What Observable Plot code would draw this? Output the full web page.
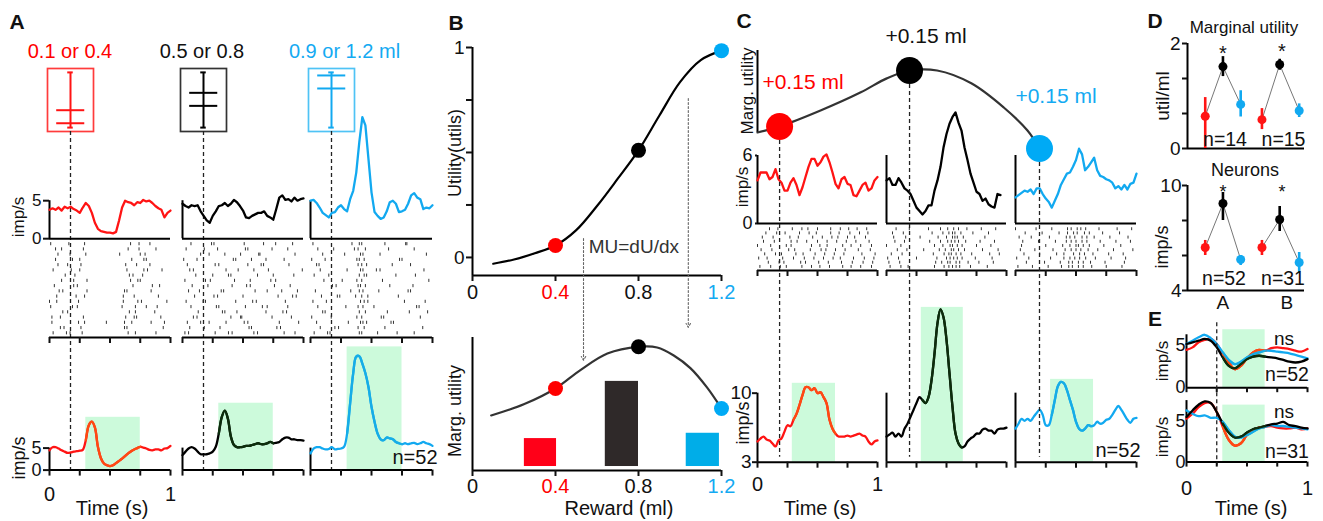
<!DOCTYPE html>
<html><head><meta charset="utf-8">
<script src="https://cdn.jsdelivr.net/npm/d3@7"></script>
<script src="https://cdn.jsdelivr.net/npm/@observablehq/plot@0.6"></script>
<style>
body{margin:0;background:#fff;}
#fig{position:relative;width:1323px;height:521px;overflow:hidden;font-family:'Liberation Sans',Arial,Helvetica,sans-serif;}
#fig svg{position:absolute;}
.lab{position:absolute;white-space:nowrap;line-height:1;transform:translate(-50%,-50%);color:#111;}
</style></head><body><div id="fig"></div>
<script>
// ================= DATA =================
const T41 = d3.range(41).map(i => i / 40);
const T21 = d3.range(21).map(i => i / 20);

// Panel A : cue boxes (reward amounts), titles
const aTitles = ["0.1 or 0.4", "0.5 or 0.8", "0.9 or 1.2 ml"];
const aBoxVals = [[0.1, 0.4], [0.5, 0.8], [0.9, 1.2]];
// Panel A single neuron PSTH (imp/s)
const aTopRed   = [3.8,4.0,3.8,4.1,3.7,4.2,4.0,4.2,3.9,3.7,3.4,4.1,4.7,4.3,3.4,2.1,1.3,1.0,0.9,0.8,0.8,0.7,0.9,2.4,4.1,5.0,4.8,4.7,4.4,4.8,4.7,5.1,4.9,5.0,4.7,4.3,4.0,3.8,2.8,3.4,3.7];
const aTopBlack = [4.6,4.3,4.1,4.4,4.3,4.4,3.6,3.0,2.4,2.1,3.0,3.6,4.3,4.4,4.7,4.3,4.6,5.1,4.8,4.3,3.7,2.8,2.7,3.0,3.2,3.4,3.4,3.6,3.0,2.8,2.5,3.9,5.4,5.7,5.1,5.2,4.9,5.4,5.0,5.2,5.3];
const aTopBlue  = [5.0,5.1,4.7,4.1,3.4,3.1,2.8,3.4,3.5,4.1,4.4,3.9,3.6,5.2,6.3,8.7,12.7,16.0,14.9,10.5,6.1,3.5,3.0,2.6,2.8,3.6,4.8,5.0,4.6,3.5,3.6,3.8,4.6,5.7,6.0,5.4,5.2,3.9,4.1,4.0,4.4];
// Panel A population PSTH (n=52)
const aBotRed   = [4.5,5.2,5.2,4.9,4.5,4.2,3.9,4.0,4.2,4.3,4.4,4.6,6.8,10.2,11.0,9.7,5.3,2.7,1.5,1.1,0.9,1.1,1.6,2.1,2.6,3.2,3.8,4.3,4.7,5.0,5.3,5.1,4.9,4.6,4.5,4.7,4.7,4.5,4.9,5.0,5.5];
const aBotBlack = [3.4,4.2,4.9,5.2,4.9,4.2,3.6,3.6,3.6,3.8,4.2,5.3,8.3,12.1,13.5,11.7,7.6,5.7,5.2,5.2,5.3,5.5,5.5,5.7,5.9,6.1,5.9,5.9,6.1,6.4,6.1,6.2,6.4,7.0,7.4,7.4,7.0,7.0,6.8,6.8,6.7];
const aBotBlue  = [3.8,4.9,5.2,5.2,4.9,4.7,4.8,5.2,4.7,4.8,4.9,5.3,8.3,15.2,22.0,25.8,25.9,24.2,22.0,18.9,14.4,11.0,8.3,7.0,6.8,7.4,7.2,7.0,6.4,6.1,5.9,6.1,5.9,6.1,6.2,5.9,6.1,6.4,6.1,5.9,5.5];
const aWinStart = [0.30, 0.30, 0.30];
const aWinEnd   = [0.75, 0.75, 0.75];
const aWinTop   = [12, 15.2, 28];
// Panel A rasters: spike times (hundredths of s), one string per trial
const aRasterRed = ["3 14 17 27 65 71 88","9 12 26 62 64 94","2 24 29 47 62 68 84 95","2 9 28 63 70 72 92","11 15 66 71 87","1 19 23 60 71 80 89","0 6 24 61 73 76 97","6 22 29 61 70 90","8 11 31 62 64 84","4 20 23 69 85 91","10 20 31 67 73 75","13 21 66 69 77","3 18 25 64 78 81 93","7 15 26 63 72 83","5 19 25 68 78 80","7 17 30 58 75 79","5 10 28 65 74 88","1 16 29 67 74 83"];
const aRasterBlack = ["2 5 27 38 41 59 62 84 93","6 18 31 55 57 78 81","4 15 22 36 51 54 80 96","9 12 40 48 49 74 90","13 33 35 45 69 83 86","7 28 30 52 66 70 87","3 17 19 44 58 61 85","10 26 29 50 79 91 94","5 14 32 34 60 70 82 95","8 21 41 53 56 76 89","2 19 23 43 56 73 77","11 25 38 40 62 75 92","6 9 36 46 59 71 99","4 27 30 54 65 67 88","1 12 42 44 57 69 84","15 22 35 48 63 64 93","3 18 29 52 54 74 87","7 24 26 51 67 77 91"];
const aRasterBlue = ["3 14 16 40 42 55 71 85","8 20 23 39 44 61 92","5 31 41 43 46 66 68","1 17 38 42 58 60 90","10 12 40 45 63 81 96","6 29 39 43 52 87 89","2 13 41 44 47 77 94","9 22 24 37 42 47 72","4 33 40 43 56 80 82","18 21 39 41 45 65 84","11 26 38 42 59 97","3 15 40 44 46 70 86","8 30 41 43 54 57 93","5 7 39 42 46 67 82","1 12 38 40 44 73 75","10 28 41 43 57 95","6 19 36 39 45 64 85","2 34 40 42 61 78 79"];

// Panel B
const bX    = [0.1,0.2,0.3,0.4,0.5,0.6,0.7,0.8,0.9,1.0,1.1,1.2];
const bUtil = [-0.03,-0.01,0.02,0.057,0.13,0.245,0.375,0.51,0.675,0.835,0.94,0.985];
const bMuX  = [0.09,0.25,0.4,0.52,0.65,0.8,0.89,0.97,1.05,1.13,1.2];
const bMu   = [0.414,0.50,0.617,0.755,0.88,0.93,0.925,0.865,0.77,0.625,0.466];
const bDotX = [0.4, 0.8, 1.2];
const bDotU = [0.057, 0.51, 0.985];
const bDotMu = [0.617, 0.93, 0.466];
const bBarX1 = [0.25, 0.64, 1.03];
const bBarX2 = [0.405, 0.80, 1.19];
const bBarTop = [0.24, 0.67, 0.28];
const bTicks = [0, 0.4, 0.8, 1.2];
const bTickLabels = ["0", "0.4", "0.8", "1.2"];

// Panel C
const cCurveX = [0.332,0.4,0.526,0.65,0.73,0.8,0.885,0.99,1.09,1.163,1.2];
const cCurveY = [0,0.073,0.268,0.49,0.66,0.756,0.756,0.6,0.305,0.024,-0.195];
const cDotX = [0.4, 0.8, 1.2];
const cDotY = [0.073, 0.756, -0.195];
const cLabels = ["+0.15 ml", "+0.15 ml", "+0.15 ml"];
const cTopRed   = [3.8,4.5,4.5,4.5,3.9,4.1,4.8,3.9,3.6,2.9,2.9,3.6,4.0,3.4,2.5,3.2,4.1,5.0,5.7,5.7,5.1,5.4,5.9,6.1,5.4,4.5,3.5,3.1,3.9,4.1,3.5,3.4,2.5,2.4,2.9,3.4,3.6,2.9,3.1,3.8,4.1];
const cTopBlack = [3.8,4.0,3.4,3.4,4.0,3.6,3.1,2.9,2.6,2.0,1.4,1.1,0.8,1.1,1.6,1.6,2.9,3.8,5.0,6.7,7.9,8.8,9.4,9.8,8.9,8.2,6.7,5.6,4.4,3.6,2.8,2.6,2.0,2.2,1.7,1.5,1.4,2.6,2.5,null,null];
const cTopBlue  = [2.3,2.5,2.7,2.9,2.8,3.0,2.6,3.1,3.1,2.6,2.2,1.9,1.4,2.0,2.6,3.4,3.9,4.4,4.5,5.0,5.6,6.6,6.1,4.7,5.0,5.4,5.8,4.7,4.2,4.1,3.9,3.8,3.6,3.1,3.3,3.0,3.4,3.0,3.5,3.6,4.4];
const cBotRed   = [5.1,5.4,5.6,5.3,5.2,4.9,4.6,5.2,5.4,6.1,6.75,6.65,7.3,7.9,8.8,9.8,10.6,10.6,10.3,10.5,10.0,10.1,9.6,9.0,7.3,6.4,5.9,5.6,5.6,5.6,5.7,5.6,5.7,5.8,5.9,5.7,5.6,5.1,4.8,5.1,5.2];
const cBotBlack = [5.6,5.8,6.0,5.6,5.9,5.6,6.4,6.9,7.6,8.3,9.0,9.6,9.3,9.0,9.6,11.3,14.0,17.1,18.5,17.7,15.4,12.0,8.6,5.9,4.9,4.5,4.6,5.1,5.4,5.6,5.9,5.9,6.3,6.4,6.2,6.2,5.9,6.3,6.4,6.4,6.5];
const cBotBlue  = [6.4,6.9,7.4,7.2,7.4,7.2,7.6,8.0,8.3,7.8,6.75,6.75,7.8,9.3,10.7,11.15,11.0,10.3,9.3,8.3,7.1,6.4,6.2,6.4,6.75,6.65,6.75,7.1,6.9,7.0,7.3,7.4,7.8,8.3,8.7,8.3,7.8,7.3,7.0,7.4,7.5];
const cWinStart = [0.29, 0.29, 0.29];
const cWinEnd   = [0.65, 0.64, 0.645];
const cWinTop   = [11, 18.7, 11.4];
const cRasterRed = ["2 11 19 24 37 45 52 60 71 78 86 95","9 18 22 36 40 51 59 70 79 88 96","1 8 21 30 39 47 55 63 69 80 89 97","6 15 20 32 38 48 56 64 72 87 98","3 12 26 31 44 53 57 65 73 84 94","0 11 24 28 45 52 58 71 78 86 95","5 14 28 33 41 50 58 66 74 82 93","4 13 27 34 46 54 62 67 75 81 90","7 16 23 35 43 49 61 68 77 85 92","10 17 29 37 42 50 61 69 76 83 91"];
const cRasterBlack = ["3 12 18 40 48 52 55 58 61 70 84","2 11 41 46 51 53 58 61 68 77 89","1 10 25 42 50 53 56 59 63 74 88","4 13 39 48 52 54 58 62 71 86 94","9 17 31 44 49 54 56 60 65 80 93","0 12 40 47 53 55 59 63 75 87","7 15 36 45 51 54 57 60 66 78 90","6 16 28 43 50 55 57 59 64 82","5 14 38 47 52 55 57 62 72 85","8 19 35 45 51 56 60 67 79 91"];
const cRasterBlue = ["2 14 27 38 44 47 52 56 63 75 88","9 24 37 44 47 52 56 62 74 90","1 11 29 40 45 49 53 58 66 79 91","7 20 34 40 48 53 57 64 77 89","4 16 31 41 46 50 54 60 68 81 97","5 25 39 45 50 52 56 61 73 87","6 19 33 42 46 50 55 59 70 83 95","3 13 28 42 45 49 55 59 65 78 93","8 22 36 43 48 51 57 61 72 86","0 17 30 43 46 51 54 58 69 84 96"];

// Panel D
const dX      = [1, 2, 3, 4.2, 5.2, 6.3];
const dGroup  = ["A", "A", "A", "B", "B", "B"];
const dMU     = [0.615, 1.56, 0.84, 0.55, 1.6, 0.72];
const dMUlo   = [0.0, 1.37, 0.6, 0.36, 1.49, 0.59];
const dMUhi   = [0.97, 1.75, 1.1, 0.76, 1.7, 0.85];
const dNeu    = [6.46, 8.97, 5.77, 6.46, 8.06, 5.6];
const dNeuLo  = [6.0, 8.0, 5.43, 6.0, 7.37, 5.03];
const dNeuHi  = [6.86, 9.6, 6.0, 6.86, 8.8, 6.17];
const dGroupTicks = [2, 5.6];
const dGroupNames = ["A", "B"];

// Panel E
const eTopRed   = [4.5,4.8,5.4,5.7,5.8,5.2,4.0,3.0,2.2,2.6,3.5,4.2,4.5,4.4,4.7,4.8,4.7,4.6,4.4,4.3,4.6];
const eTopBlue  = [5.2,5.6,6.0,6.3,5.9,5.2,4.2,3.3,2.8,3.1,3.6,4.0,4.2,4.4,4.4,4.3,4.2,4.1,3.9,3.7,3.5];
const eTopBlack = [5.2,5.4,5.6,5.8,5.6,4.8,3.6,2.6,2.3,2.8,3.4,3.7,3.8,3.7,3.6,3.5,3.3,3.1,3.0,3.1,3.4];
const eBotRed   = [5.3,5.9,6.7,7.2,7.2,6.1,4.3,2.7,2.0,2.3,3.3,3.9,4.2,4.3,4.4,4.2,4.1,4.1,4.2,4.0,4.1];
const eBotBlue  = [6.3,5.9,5.6,5.7,5.4,5.4,4.9,3.9,3.1,3.0,3.3,3.7,4.1,4.3,4.5,4.4,4.4,4.3,4.2,4.1,4.0];
const eBotBlack = [5.5,6.3,7.0,7.4,7.2,6.1,4.7,3.6,3.0,3.1,3.6,4.0,4.2,4.4,4.6,4.7,4.9,4.5,4.4,4.2,4.1];
const eCue = 0.25;
const eWin = [0.30, 0.65];
const eWinTop = [6.9, 6.95];

// ================= STYLE =================
const FONT = "'Liberation Sans', Arial, Helvetica, sans-serif";
const RED = "#ff1414", BLUE = "#12a9f0", BLACK = "#000000", GREEN = "#ccfadb";
const TINT = ["#ff4a12", "#0c2e0c", "#16ade6"];
const RED_T = "#ff0000", BLUE_T = "#14aaf2";
const cols3 = [RED, BLACK, BLUE];
const fig = document.getElementById("fig");
const TICKS_T = [0, 0.25, 0.5, 0.75, 1];

function place(box, xd, yd, marks) {
  const m = 60;
  const w = box.x1 - box.x0, h = box.yBot - box.yTop;
  const svg = Plot.plot({
    width: w + 2 * m, height: h + 2 * m,
    marginLeft: m, marginRight: m, marginTop: m, marginBottom: m,
    x: {domain: xd, axis: null, label: null},
    y: {domain: yd, axis: null, label: null},
    color: {type: "identity"},
    style: `background: transparent; overflow: visible; font-family: ${FONT}; font-size: 17px; color: #111;`,
    marks: marks.flat().filter(Boolean)
  });
  svg.style.left = (box.x0 - m) + "px";
  svg.style.top = (box.yTop - m) + "px";
  fig.appendChild(svg);
}
function label(text, x, y, o = {}) {
  const d = document.createElement("div");
  d.className = "lab";
  d.textContent = text;
  d.style.left = x + "px";
  d.style.top = y + "px";
  d.style.fontSize = (o.size || 19) + "px";
  if (o.lh) d.style.lineHeight = o.lh;
  if (o.color) d.style.color = o.color;
  if (o.bold) d.style.fontWeight = "bold";
  if (o.rot) d.style.transform = "translate(-50%,-50%) rotate(-90deg)";
  fig.appendChild(d);
}
function trace(T, v, stroke, o = {}) {
  const lo = o.from ?? -Infinity, hi = o.to ?? Infinity;
  const data = T.map((t, i) => [t, v[i]]).filter(d => d[1] != null && d[0] >= lo - 1e-9 && d[0] <= hi + 1e-9);
  return Plot.line(data, {x: d => d[0], y: d => d[1], stroke, strokeWidth: o.w || 2.3,
    curve: o.curve || "linear", strokeLinejoin: "round", strokeLinecap: "round"});
}
function windowTrace(T, v, k, x1, x2, o = {}) {
  // trace, with the part inside the response window shown in its tinted colour
  return [trace(T, v, cols3[k], o), trace(T, v, TINT[k], {...o, from: x1, to: x2})];
}
function raster(rows, h) {
  const data = [];
  rows.forEach((s, i) => s.split(" ").forEach(v => data.push({t: +v / 100, k: i})));
  return Plot.ruleX(data, {x: "t", y1: "k", y2: d => d.k + h, stroke: "#333", strokeWidth: 1});
}
function greenWin(x1, x2, y1, y2) {
  return Plot.rect([0], {x1, x2, y1, y2, fill: GREEN});
}

// ================= PANEL A =================
const aCols = [[49, 170], [182, 303], [310, 432]];
const aBoxX = [47, 180, 308];
const aBoxStroke = ["#ff3b3b", "#333333", "#4fc3f5"];
const aTop = [aTopRed, aTopBlack, aTopBlue];
const aBot = [aBotRed, aBotBlack, aBotBlue];
const aRas = [aRasterRed, aRasterBlack, aRasterBlue];
const aTitleX = [70, 202, 344.5];
const aTitleC = [RED_T, "#111", BLUE_T];

aCols.forEach(([x0, x1], k) => {
  const c = cols3[k];
  place({x0: aBoxX[k], x1: aBoxX[k] + 46, yTop: 68, yBot: 131}, [0, 1], [-0.09, 1.36], [
    Plot.frame({stroke: aBoxStroke[k], strokeWidth: 1.7}),
    Plot.ruleX([0.5], {y1: 0, y2: 1.27, stroke: c, strokeWidth: 2}),
    Plot.ruleY([0, 1.27], {x1: 0.44, x2: 0.56, stroke: c, strokeWidth: 2}),
    Plot.ruleY(aBoxVals[k], {x1: 0.2, x2: 0.81, stroke: c, strokeWidth: 2}),
    Plot.ruleX([0.5], {y1: -0.09, y2: -7.89, stroke: "#222", strokeWidth: 1.3, strokeDasharray: "4,3"})
  ]);
  place({x0, x1, yTop: 238 - 17 * 7.6, yBot: 238}, [0, 1], [0, 17], [
    Plot.ruleY([0], {stroke: "#000", strokeWidth: 2}),
    Plot.ruleX([0], {y1: 0, y2: 5, stroke: "#000", strokeWidth: 2}),
    k === 0 && Plot.axisY({ticks: [0, 5], tickSize: 6, tickPadding: 2, fontSize: 17, strokeWidth: 2, label: null}),
    trace(T41, aTop[k], c)
  ]);
  place({x0, x1, yTop: 240, yBot: 337}, [0, 1], [-0.5, 18], [
    raster(aRas[k], 0.6),
    Plot.ruleY([-0.5], {stroke: "#000", strokeWidth: 2}),
    Plot.axisX({ticks: TICKS_T, tickSize: 6, strokeWidth: 2, tickFormat: () => "", label: null})
  ]);
  place({x0, x1, yTop: 470 - 29 * 4.4, yBot: 470}, [0, 1], [0, 29], [
    greenWin(aWinStart[k], aWinEnd[k], 0, aWinTop[k]),
    Plot.ruleY([0], {stroke: "#000", strokeWidth: 2}),
    Plot.ruleX([0], {y1: 0, y2: 5, stroke: "#000", strokeWidth: 2}),
    k === 0 && Plot.axisY({ticks: [0, 5], tickSize: 6, tickPadding: 2, fontSize: 18, strokeWidth: 2, label: null}),
    Plot.axisX({ticks: TICKS_T, tickSize: 6, tickPadding: 11, strokeWidth: 2, fontSize: 20, label: null,
      tickFormat: d => (k === 0 && (d === 0 || d === 1)) ? String(d) : ""}),
    windowTrace(T41, aBot[k], k, aWinStart[k], aWinEnd[k], {curve: "catmull-rom"})
  ]);
  label(aTitles[k], aTitleX[k], 51, {size: 20, color: aTitleC[k]});
});
label("A", 17, 21, {size: 21, bold: true});
label("imp/s", 18, 217, {size: 17, rot: true});
label("imp/s", 19, 458, {size: 18, rot: true});
label("Time (s)", 112, 508, {size: 20});
label("n=52", 415, 457, {size: 20});

// ================= PANEL B =================
const bColors = [RED_T, "#000000", "#00aaf5"];
const bTickColors = ["#111", RED_T, "#111", BLUE_T];
const bBarColors = ["#ff0018", "#2f2929", "#00ade8"];
place({x0: 472, x1: 721, yTop: 47, yBot: 275}, [0, 1.2], [-0.086, 1], [
  Plot.ruleX([0], {y1: -0.086, y2: 1, stroke: "#000", strokeWidth: 2}),
  Plot.ruleY([-0.086], {x1: 0, x2: 1.2, stroke: "#000", strokeWidth: 2}),
  Plot.axisY({ticks: [0, 0.25, 0.5, 0.75, 1], tickSize: 6, tickPadding: 2, fontSize: 19, strokeWidth: 2, label: null,
    tickFormat: d => (d === 0 || d === 1) ? String(d) : ""}),
  Plot.axisX({ticks: bTicks, tickSize: 6, strokeWidth: 2, tickFormat: () => "", label: null}),
  ...bTicks.map((t, i) => Plot.text([{t, s: bTickLabels[i]}], {x: "t", y: -0.086, dy: 17, text: "s", fill: bTickColors[i], fontSize: 20})),
  Plot.line(bX.map((x, i) => [x, bUtil[i]]), {curve: "catmull-rom", stroke: "#000", strokeWidth: 2.2}),
  Plot.arrow([{x: 0.535, a: 0.09, b: -0.49}, {x: 1.04, a: 0.757, b: -0.333}],
    {x1: "x", x2: "x", y1: "a", y2: "b", stroke: "#666", strokeWidth: 1.1, strokeDasharray: "2,2", headLength: 6}),
  Plot.text(["MU=dU/dx"], {x: 0.56, y: 0.048, textAnchor: "start", fontSize: 19, fill: "#333"}),
  Plot.dot(bDotX.map((x, i) => ({x, y: bDotU[i], c: bColors[i]})), {x: "x", y: "y", fill: "c", r: 7.5})
]);
place({x0: 472, x1: 721, yTop: 337, yBot: 470}, [0, 1.2], [0, 1], [
  Plot.ruleX([0], {y1: 0, y2: 1, stroke: "#000", strokeWidth: 2}),
  Plot.ruleY([0], {x1: 0, x2: 1.2, stroke: "#000", strokeWidth: 2}),
  Plot.axisX({ticks: bTicks, tickSize: 6, strokeWidth: 2, tickFormat: () => "", label: null}),
  ...bTicks.map((t, i) => Plot.text([{t, s: bTickLabels[i]}], {x: "t", y: 0, dy: 16, text: "s", fill: bTickColors[i], fontSize: 20})),
  Plot.rect(bBarX1.map((x1, i) => ({x1, x2: bBarX2[i], y2: bBarTop[i], c: bBarColors[i]})),
    {x1: "x1", x2: "x2", y1: 0.03, y2: "y2", fill: "c"}),
  Plot.line(bMuX.map((x, i) => [x, bMu[i]]), {curve: "catmull-rom", stroke: "#333", strokeWidth: 2.2}),
  Plot.dot(bDotX.map((x, i) => ({x, y: bDotMu[i], c: bColors[i]})), {x: "x", y: "y", fill: "c", r: 7.5})
]);
label("B", 456, 22, {size: 21, bold: true});
label("Utility(utils)", 455, 153, {size: 18, rot: true});
label("Marg. utility", 455, 411, {size: 18, rot: true});
label("Reward (ml)", 619, 508, {size: 20});

// ================= PANEL C =================
const cCols = [[757, 877], [886, 1006], [1015, 1136]];
const cTop = [cTopRed, cTopBlack, cTopBlue];
const cBot = [cBotRed, cBotBlack, cBotBlue];
const cRas = [cRasterRed, cRasterBlack, cRasterBlue];
cCols.forEach(([x0, x1], k) => {
  const c = cols3[k];
  place({x0, x1, yTop: 223 - 10.5 * 11.333, yBot: 223}, [0, 1], [0, 10.5], [
    Plot.ruleY([0], {stroke: "#000", strokeWidth: 2}),
    Plot.ruleX([0], {y1: 0, y2: 6, stroke: "#000", strokeWidth: 2}),
    k === 0 && Plot.axisY({ticks: [0, 6], tickSize: 2, tickPadding: 3, fontSize: 18, strokeWidth: 2, label: null}),
    trace(T41, cTop[k], c)
  ]);
  place({x0, x1, yTop: 226, yBot: 270}, [0, 1], [-0.5, 10], [
    raster(cRas[k], 0.7),
    Plot.ruleY([-0.5], {stroke: "#000", strokeWidth: 2}),
    Plot.axisX({ticks: TICKS_T, tickSize: 6, strokeWidth: 2, tickFormat: () => "", label: null})
  ]);
  place({x0, x1, yTop: 462 - 16.5 * 9.86, yBot: 462}, [0, 1], [3, 19.5], [
    greenWin(cWinStart[k], cWinEnd[k], 3, cWinTop[k]),
    Plot.ruleY([3], {stroke: "#000", strokeWidth: 2}),
    Plot.ruleX([0], {y1: 3, y2: 10, stroke: "#000", strokeWidth: 2}),
    k === 0 && Plot.axisY({ticks: [3, 10], tickSize: 5, tickPadding: 1, fontSize: 19, strokeWidth: 2, label: null}),
    Plot.axisX({ticks: TICKS_T, tickSize: 6, tickPadding: 9, strokeWidth: 2, fontSize: 20, label: null,
      tickFormat: d => (k === 0 && (d === 0 || d === 1)) ? String(d) : ""}),
    windowTrace(T41, cBot[k], k, cWinStart[k], cWinEnd[k], {curve: "catmull-rom"})
  ]);
});
place({x0: 757, x1: 1039, yTop: 50, yBot: 132}, [0.332, 1.2], [0, 1], [
  Plot.ruleX([0.332], {y1: 0, y2: 1, stroke: "#000", strokeWidth: 2}),
  Plot.ruleX(cDotX.map((x, i) => ({x, y: cDotY[i]})), {x: "x", y1: "y", y2: -3.96, stroke: "#222", strokeWidth: 1.3, strokeDasharray: "4,3"}),
  Plot.line(cCurveX.map((x, i) => [x, cCurveY[i]]), {curve: "catmull-rom", stroke: "#333", strokeWidth: 2.2}),
  Plot.dot(cDotX.map((x, i) => ({x, y: cDotY[i], c: [RED_T, "#000", "#00aaf5"][i]})), {x: "x", y: "y", fill: "c", r: 13.5})
]);
label("C", 744, 20, {size: 21, bold: true});
label(cLabels[0], 803, 81, {size: 21, color: RED_T});
label(cLabels[1], 926, 35, {size: 21, color: "#111"});
label(cLabels[2], 1056, 95, {size: 21, color: BLUE_T});
label("Marg. utility", 747, 91, {size: 17, rot: true});
label("imp/s", 742, 187, {size: 17, rot: true});
label("imp/s", 743, 423, {size: 18, rot: true});
label("Time (s)", 820, 508, {size: 20});
label("n=52", 1118, 450, {size: 20});

// ================= PANEL D =================
const dCol = [RED, "#000", BLUE, RED, "#000", BLUE];
const dTop = dX.map((x, i) => ({x, g: dGroup[i], v: dMU[i], lo: dMUlo[i], hi: dMUhi[i], c: dCol[i]}));
const dBot = dX.map((x, i) => ({x, g: dGroup[i], v: dNeu[i], lo: dNeuLo[i], hi: dNeuHi[i], c: dCol[i]}));
function dMarks(data) {
  return [
    Plot.line(data, {x: "x", y: "v", z: "g", stroke: "#777", strokeWidth: 1}),
    Plot.ruleX(data, {x: "x", y1: "lo", y2: "hi", stroke: "c", strokeWidth: 2.6}),
    Plot.dot(data, {x: "x", y: "v", fill: "c", r: 4.5})
  ];
}
place({x0: 1187, x1: 1304, yTop: 43, yBot: 148}, [0, 6.6], [0, 2], [
  Plot.ruleX([0], {y1: 0, y2: 2, stroke: "#000", strokeWidth: 2}),
  Plot.ruleY([0], {x1: 0, x2: 6.6, stroke: "#000", strokeWidth: 2}),
  Plot.axisY({ticks: [0, 2 / 3, 4 / 3, 2], tickSize: 5, tickPadding: 2, fontSize: 19, strokeWidth: 2, label: null,
    tickFormat: d => d === 0 ? "0" : d === 2 ? "2" : ""}),
  dMarks(dTop)
]);
place({x0: 1187, x1: 1304, yTop: 185, yBot: 290}, [0, 6.6], [4, 10], [
  Plot.ruleX([0], {y1: 4, y2: 10, stroke: "#000", strokeWidth: 2}),
  Plot.ruleY([4], {x1: 0, x2: 6.6, stroke: "#000", strokeWidth: 2}),
  Plot.axisY({ticks: [4, 6, 8, 10], tickSize: 5, tickPadding: 1, fontSize: 19, strokeWidth: 2, label: null,
    tickFormat: d => (d === 4 || d === 10) ? String(d) : ""}),
  Plot.axisX({ticks: dGroupTicks, tickSize: 0, tickPadding: 5, fontSize: 19, label: null,
    tickFormat: d => dGroupNames[dGroupTicks.indexOf(d)]}),
  dMarks(dBot)
]);
label("D", 1155, 20, {size: 21, bold: true});
label("Marginal utility", 1244, 27, {size: 17});
label("Neurons", 1245, 170, {size: 18});
label("util/ml", 1162, 96, {size: 19, rot: true});
label("imp/s", 1162, 247, {size: 18, rot: true});
label("*", 1223, 53, {size: 20, lh: 0.5});
label("*", 1282, 51, {size: 20, lh: 0.5});
label("*", 1223, 192, {size: 18, lh: 0.5});
label("*", 1282, 192, {size: 18, lh: 0.5});
label("n=14", 1225, 140, {size: 19.5});
label("n=15", 1283.5, 140, {size: 19.5});
label("n=52", 1224, 279, {size: 19.5});
label("n=31", 1283, 279, {size: 19.5});

// ================= PANEL E =================
place({x0: 1186, x1: 1307, yTop: 387 - 8 * 8.4, yBot: 387}, [0, 1], [0, 8], [
  greenWin(eWin[0], eWin[1], 0, eWinTop[0]),
  Plot.ruleX([0], {y1: 0, y2: 6.3, stroke: "#000", strokeWidth: 2}),
  Plot.ruleY([0], {stroke: "#000", strokeWidth: 2}),
  Plot.axisY({ticks: [0, 5], tickSize: 0, tickPadding: 1, fontSize: 18, label: null}),
  Plot.axisX({ticks: TICKS_T, tickSize: 5, strokeWidth: 2, tickFormat: () => "", label: null}),
  trace(T21, eTopRed, RED, {curve: "catmull-rom"}),
  trace(T21, eTopBlue, BLUE, {curve: "catmull-rom"}),
  trace(T21, eTopBlack, BLACK, {curve: "catmull-rom"}),
  trace(T21, eTopRed, TINT[0], {curve: "catmull-rom", from: eWin[0], to: eWin[1]}),
  trace(T21, eTopBlue, TINT[2], {curve: "catmull-rom", from: eWin[0], to: eWin[1]}),
  trace(T21, eTopBlack, TINT[1], {curve: "catmull-rom", from: eWin[0], to: eWin[1]}),
  Plot.ruleX([eCue], {y1: 7.74, y2: -9.3, stroke: "#222", strokeWidth: 1.3, strokeDasharray: "4,3"})
]);
place({x0: 1186, x1: 1307, yTop: 462 - 8 * 8.2, yBot: 462}, [0, 1], [0, 8], [
  greenWin(eWin[0], eWin[1], 0, eWinTop[1]),
  Plot.ruleX([0], {y1: 0, y2: 7.5, stroke: "#000", strokeWidth: 2}),
  Plot.ruleY([0], {stroke: "#000", strokeWidth: 2}),
  Plot.axisY({ticks: [0, 5], tickSize: 0, tickPadding: 1, fontSize: 18, label: null}),
  Plot.axisX({ticks: TICKS_T, tickSize: 5, tickPadding: 14, strokeWidth: 2, fontSize: 20, label: null,
    tickFormat: d => (d === 0 || d === 1) ? String(d) : ""}),
  trace(T21, eBotRed, RED, {curve: "catmull-rom"}),
  trace(T21, eBotBlue, BLUE, {curve: "catmull-rom"}),
  trace(T21, eBotBlack, BLACK, {curve: "catmull-rom"}),
  trace(T21, eBotRed, TINT[0], {curve: "catmull-rom", from: eWin[0], to: eWin[1]}),
  trace(T21, eBotBlue, TINT[2], {curve: "catmull-rom", from: eWin[0], to: eWin[1]}),
  trace(T21, eBotBlack, TINT[1], {curve: "catmull-rom", from: eWin[0], to: eWin[1]})
]);
label("E", 1155, 318, {size: 21, bold: true});
label("imp/s", 1162, 361, {size: 17, rot: true});
label("imp/s", 1162, 437, {size: 17, rot: true});
label("ns", 1284, 338, {size: 19});
label("ns", 1284, 411, {size: 19});
label("n=52", 1287, 375, {size: 19.5});
label("n=31", 1287, 452, {size: 19.5});
label("Time (s)", 1251, 508, {size: 20});
</script></body></html>
